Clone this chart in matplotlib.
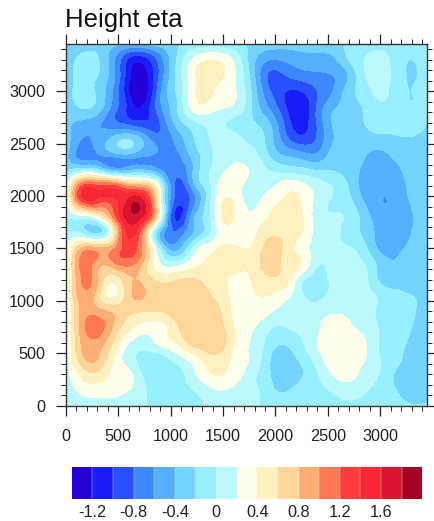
import matplotlib
matplotlib.use("Agg")
import matplotlib.pyplot as plt
import matplotlib.tri as mtri
import numpy as np
from matplotlib.colors import BoundaryNorm, ListedColormap
from matplotlib.ticker import MultipleLocator

plt.rcParams["font.family"] = ["Liberation Sans", "DejaVu Sans"]

x_vals = list(range(0, 3451, 150))
y_vals = list(range(3450, -1, -150))

# one row per y value, top of the plot first
height_eta = [
    [-.30,-.30,-.28,-.35,-.38,-.38,-.30,-.22,-.15,-.12,-.12,-.18, -.25,-.30,-.32,-.30,-.30,-.25,-.18,-.12,-.10,-.10,-.12,-.15],
    [-.30,-.15,-.18,-.55,-1.05,-1.10,-.70,-.22,.20,.38,.33,.05, -.38,-.60,-.57,-.50,-.48,-.45,-.20,.00,.08,-.10,-.20,-.12],
    [-.33,-.12,-.20,-.55,-1.15,-1.30,-.75,-.20,.30,.50,.40,.12, -.40,-.85,-.80,-.70,-.65,-.60,-.38,-.03,.10,-.08,-.22,-.10],
    [-.32,-.12,-.25,-.62,-1.20,-1.35,-.65,-.20,.30,.45,.33,.15, -.33,-.80,-1.00,-1.00,-.80,-.60,-.30,-.10,.05,-.10,-.20,-.12],
    [-.35,-.18,-.28,-.68,-1.08,-1.15,-.65,-.25,.25,.32,.22,.10, -.28,-.65,-1.00,-1.15,-.78,-.45,-.30,-.18,-.05,-.08,-.18,-.12],
    [-.35,-.45,-.55,-.75,-.90,-.97,-.80,-.35,-.08,.05,.02,-.08, -.20,-.42,-.88,-1.10,-.78,-.38,-.28,-.20,-.15,-.12,-.10,-.20],
    [-.30,-.60,-.55,-.35,-.24,-.50,-.72,-.55,-.25,-.03,.08,.02, -.08,-.33,-.75,-.95,-.78,-.42,-.30,-.27,-.25,-.22,-.22,-.28],
    [-.35,-.70,-.62,-.48,-.42,-.55,-.65,-.65,-.35,-.10,.10,.08, .03,-.25,-.45,-.55,-.58,-.33,-.28,-.38,-.47,-.32,-.28,-.32],
    [-.25,-.10,-.18,-.48,-.46,-.42,-.60,-.75,-.45,-.05,.15,.28, .12,-.02,-.10,-.15,-.22,-.22,-.30,-.45,-.58,-.48,-.30,-.30],
    [.02,1.15,1.20,1.20,.90,.80,.10,-.85,-.55,-.10,.30,.25, .10,.15,.30,.25,.10,-.02,-.22,-.50,-.58,-.52,-.35,-.32],
    [.05,1.20,1.28,1.30,1.65,1.55,.25,-.90,-.75,-.15,.40,.28, .15,.32,.42,.38,.12,-.02,-.15,-.42,-.59,-.55,-.38,-.30],
    [.00,.08,.30,1.00,1.70,1.50,.25,-1.05,-.55,-.10,.42,.30, .25,.42,.52,.42,.10,.02,-.05,-.30,-.52,-.55,-.42,-.30],
    [.00,-.05,-.25,.40,1.45,.80,-.45,-.78,-.45,-.10,.30,.27, .35,.55,.55,.40,.12,.05,-.10,-.25,-.50,-.55,-.40,-.30],
    [.12,.82,.85,.95,1.30,.85,-.10,-.50,-.02,.30,.43,.42, .45,.70,.52,.30,.10,.05,.02,-.15,-.45,-.47,-.35,-.27],
    [.14,1.05,.88,.92,1.05,.70,.20,.10,.30,.42,.48,.50, .50,.72,.50,.38,.02,.08,.08,.00,-.28,-.38,-.30,-.25],
    [.14,1.00,.82,.45,.75,.72,.55,.58,.62,.55,.45,.30, .45,.55,.45,.06,-.10,.05,.12,.05,-.24,-.30,-.28,-.25],
    [.14,.90,.68,.35,.72,.80,.68,.70,.68,.62,.47,.32, .38,.38,.25,.03,-.08,.08,.12,.08,-.05,-.15,-.20,-.25],
    [.14,.85,.88,.75,.65,.60,.60,.70,.75,.72,.55,.30, .30,.22,.12,.08,.10,.17,.17,.10,-.05,-.12,-.18,-.27],
    [.14,.88,1.10,.78,.45,.30,.30,.55,.72,.74,.62,.32, .20,.02,.00,.05,.15,.31,.24,.12,-.02,-.10,-.20,-.28],
    [.14,.82,.92,.58,.20,.10,.25,.40,.65,.74,.66,.32, .15,-.10,-.18,-.03,.20,.33,.34,.22,-.02,-.12,-.25,-.30],
    [.14,.72,.80,.40,.08,-.08,-.11,.08,.28,.50,.50,.28, .13,-.20,-.30,-.15,.10,.32,.32,.21,.00,-.15,-.27,-.30],
    [.12,.45,.55,.35,.25,-.05,-.13,-.10,.12,.35,.40,.25, .03,-.20,-.32,-.22,-.02,.20,.28,.12,-.02,-.22,-.25,-.30],
    [.05,.25,.30,.28,.20,.02,-.13,-.14,-.02,.12,.20,.10, .03,-.15,-.22,-.12,-.05,.02,.08,.02,-.08,-.20,-.30,-.28],
    [.02,.05,.08,.08,.06,.02,-.08,-.12,-.08,.02,.05,.03, .01,-.05,-.10,-.10,-.05,-.03,-.02,-.05,-.08,-.12,-.18,-.18],
]

levels = [-1.4, -1.2, -1.0, -0.8, -0.6, -0.4, -0.2, 0.0, 0.2, 0.4, 0.6, 0.8, 1.0, 1.2, 1.4, 1.6, 1.8, 2.0]
band_colors = ["#2400D8", "#181CF7", "#2850FF", "#3D87FF", "#56B0FF", "#75D3FF", "#98EFFF", "#BCF9FF",
               "#FFFFEA", "#FFF1BF", "#FFD699", "#FFAC75", "#FF7855", "#FF3D3D", "#F72735", "#D8152F", "#A50021"]
bar_ticks = [-1.2, -0.8, -0.4, 0.0, 0.4, 0.8, 1.2, 1.6]
bar_labels = ["-1.2", "-0.8", "-0.4", "0", "0.4", "0.8", "1.2", "1.6"]

W, H = 434, 521
fig = plt.figure(figsize=(W / 100, H / 100), dpi=100)
ax = fig.add_axes([66 / W, (H - 405.7) / H, 361.3 / W, 361.7 / H])

# the values are a coarse reading, refine the mesh so the contours come out round
xx, yy = np.meshgrid(x_vals, y_vals)
tri = mtri.Triangulation(xx.ravel(), yy.ravel())
refiner = mtri.UniformTriRefiner(tri)
fine_tri, fine_z = refiner.refine_field(np.array(height_eta).ravel(), subdiv=3)
fine_z = np.clip(fine_z, levels[0], levels[-1])

cmap = ListedColormap(band_colors)
norm = BoundaryNorm(levels, cmap.N)
cs = ax.tricontourf(fine_tri, fine_z, levels=levels, cmap=cmap, norm=norm)
cs.set_edgecolor("face")
cs.set_linewidth(0.2)

ax.set_xlim(0, 3450)
ax.set_ylim(0, 3450)
ax.xaxis.set_major_locator(MultipleLocator(500))
ax.xaxis.set_minor_locator(MultipleLocator(100))
ax.yaxis.set_major_locator(MultipleLocator(500))
ax.yaxis.set_minor_locator(MultipleLocator(100))
ax.tick_params(which="major", direction="out", length=7, width=0.9, top=True, right=True,
               labelsize=11.7, colors="#222222")
ax.tick_params(which="minor", direction="out", length=3.6, width=0.7, top=True, right=True, colors="#222222")
ax.tick_params(axis="x", which="major", pad=10)
ax.tick_params(axis="y", which="major", pad=8)
for spine in ax.spines.values():
    spine.set_linewidth(1.0)
    spine.set_color("#333333")

fig.text(65 / W, 1 - 27 / H, "Height eta", fontsize=18.5, color="#111111", ha="left", va="baseline")

cax = fig.add_axes([71.7 / W, (H - 499.3) / H, 350.6 / W, 32 / H])
cb = fig.colorbar(cs, cax=cax, orientation="horizontal", ticks=bar_ticks, spacing="uniform", drawedges=True)
cb.set_ticklabels(bar_labels)
cb.ax.tick_params(length=0, labelsize=11.7, colors="#222222", pad=4)
cb.ax.minorticks_off()
cb.outline.set_visible(False)
cb.dividers.set_color("#e8e8f0")
cb.dividers.set_linewidth(0.3)

fig.savefig("out.png", dpi=100)
